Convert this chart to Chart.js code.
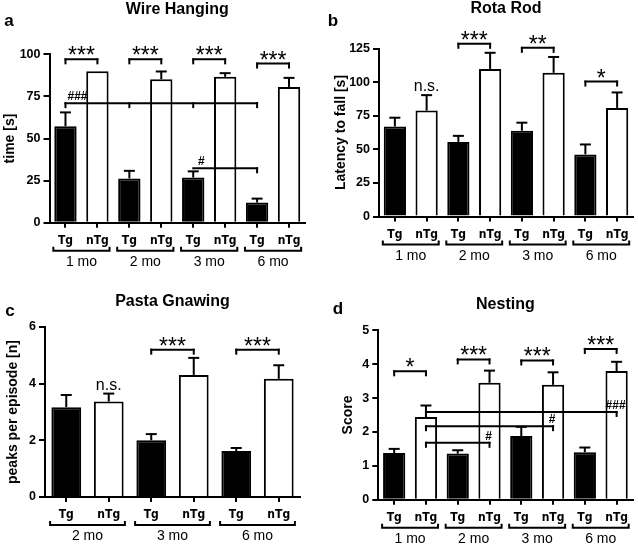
<!DOCTYPE html>
<html>
<head>
<meta charset="utf-8">
<script src="https://cdn.jsdelivr.net/npm/chart.js@4.4.0/dist/chart.umd.min.js"></script>
<style>
  body { margin: 0; background: #fff; }
  #wrap { position: relative; width: 638px; height: 544px; overflow: hidden; }
  canvas { position: absolute; }
</style>
</head>
<body>
<div id="wrap">
  <canvas id="wire" width="320" height="272" style="left:0;top:0"></canvas>
  <canvas id="rota" width="318" height="272" style="left:320px;top:0"></canvas>
  <canvas id="pasta" width="320" height="272" style="left:0;top:272px"></canvas>
  <canvas id="nest" width="318" height="272" style="left:320px;top:272px"></canvas>
</div>
<script>
// a: Wire Hanging
var wireMonths = ['1 mo', '2 mo', '3 mo', '6 mo'];
var wireTg = [57.3, 26.3, 26.8, 12.0];
var wireTgSem = [8.2, 4.5, 3.7, 2.3];
var wireNTg = [90.0, 85.2, 86.6, 80.6];
var wireNTgSem = [0, 4.6, 2.2, 5.4];

// b: Rota Rod
var rotaMonths = ['1 mo', '2 mo', '3 mo', '6 mo'];
var rotaTg = [67.0, 55.5, 63.8, 46.2];
var rotaTgSem = [6.5, 4.5, 6.0, 7.4];
var rotaNTg = [78.8, 109.8, 106.9, 80.8];
var rotaNTgSem = [11.5, 12.0, 11.8, 11.5];

// c: Pasta Gnawing
var pastaMonths = ['2 mo', '3 mo', '6 mo'];
var pastaTg = [3.17, 2.00, 1.62];
var pastaTgSem = [0.43, 0.22, 0.11];
var pastaNTg = [3.37, 4.31, 4.17];
var pastaNTgSem = [0.28, 0.60, 0.48];

// d: Nesting
var nestMonths = ['1 mo', '2 mo', '3 mo', '6 mo'];
var nestTg = [1.38, 1.36, 1.88, 1.40];
var nestTgSem = [0.12, 0.10, 0.27, 0.14];
var nestNTg = [2.44, 3.45, 3.39, 3.80];
var nestNTgSem = [0.34, 0.36, 0.37, 0.27];

// significance marks: bar slots (Tg = 2*group, nTg = 2*group+1), level in data units
var wireSig = [
  { from: 0, to: 1, level: 97, text: '***' },
  { from: 2, to: 3, level: 97, text: '***' },
  { from: 4, to: 5, level: 97, text: '***' },
  { from: 6, to: 7, level: 94.5, text: '***' },
  { from: 0, to: 6, level: 71, text: '###', ticks: [0, 2, 4, 6], at: 'left' },
  { from: 4, to: 6, level: 32.3, text: '#', ticks: [6], at: 'left' }
];
var rotaSig = [
  { slot: 1, level: 97, text: 'n.s.' },
  { from: 2, to: 3, level: 128.5, text: '***' },
  { from: 4, to: 5, level: 125.5, text: '**' },
  { from: 6, to: 7, level: 100.4, text: '*' }
];
var pastaSig = [
  { slot: 1, level: 3.94, text: 'n.s.' },
  { from: 2, to: 3, level: 5.2, text: '***' },
  { from: 4, to: 5, level: 5.2, text: '***' }
];
var nestSig = [
  { from: 0, to: 1, level: 3.79, text: '*' },
  { from: 2, to: 3, level: 4.14, text: '***' },
  { from: 4, to: 5, level: 4.11, text: '***' },
  { from: 6, to: 7, level: 4.45, text: '***' },
  { from: 1, to: 7, level: 2.59, text: '###', ticks: [1, 7], at: 'right' },
  { from: 1, to: 5, level: 2.17, text: '#', ticks: [1, 5], at: 'right' },
  { from: 1, to: 3, level: 1.68, text: '#', ticks: [1, 3], at: 'right' }
];

var FONT = '"Liberation Sans", Arial, sans-serif';
var NARROW = '"Liberation Sans Narrow", "DejaVu Sans Condensed", "Liberation Sans", sans-serif';

function line(ctx, x1, y1, x2, y2) {
  ctx.beginPath();
  ctx.moveTo(x1, y1);
  ctx.lineTo(x2, y2);
  ctx.stroke();
}

function makePanel(id, p) {
  var canvas = document.getElementById(id);
  var W = canvas.width, H = canvas.height;
  var labels = [], tgData = [], ntgData = [], sems = [];
  p.months.forEach(function (m, i) {
    labels.push('Tg', 'nTg');
    tgData.push(p.tg[i], null);
    ntgData.push(null, p.ntg[i]);
    sems.push(p.tgSem[i], p.ntgSem[i]);
  });

  var extras = {
    id: 'extras',
    afterDraw: function (chart) {
      var ctx = chart.ctx, xs = chart.scales.x, ys = chart.scales.y, area = chart.chartArea;
      ctx.save();
      ctx.strokeStyle = '#000';
      ctx.fillStyle = '#000';
      ctx.lineWidth = 2;
      ctx.lineCap = 'butt';

      // error bars (SEM, upward only)
      for (var i = 0; i < labels.length; i++) {
        var v = i % 2 === 0 ? tgData[i] : ntgData[i];
        if (!sems[i]) continue;
        var xc = xs.getPixelForValue(i);
        var y0 = ys.getPixelForValue(v), y1 = ys.getPixelForValue(v + sems[i]);
        line(ctx, xc, y0, xc, y1);
        line(ctx, xc - 5.5, y1, xc + 5.5, y1);
      }

      // significance brackets
      ctx.textAlign = 'center';
      ctx.textBaseline = 'alphabetic';
      p.sig.forEach(function (s) {
        var yy = ys.getPixelForValue(s.level);
        if (s.slot !== undefined) {
          ctx.font = '16px ' + FONT;
          ctx.fillText(s.text, xs.getPixelForValue(s.slot), yy + 4.5);
          return;
        }
        var x1 = xs.getPixelForValue(s.from), x2 = xs.getPixelForValue(s.to);
        line(ctx, x1 - 1, yy, x2 + 1, yy);
        (s.ticks || [s.from, s.to]).forEach(function (t) {
          var xt = xs.getPixelForValue(t);
          line(ctx, xt, yy - 1, xt, yy + 5);
        });
        if (s.text.charAt(0) === '*') {
          ctx.font = '23px ' + FONT;
          ctx.fillText(s.text, (x1 + x2) / 2, yy + 4);
        } else {
          ctx.font = 'bold 12px ' + FONT;
          var tx = s.at === 'left' ? x1 + 2 + ctx.measureText(s.text).width / 2 : x2 - 1;
          if (s.text === '#' && s.at === 'left') tx = x1 + 8;
          ctx.fillText(s.text, tx, yy - 3);
        }
      });

      // group brackets and month labels under the x axis
      var step = xs.getPixelForValue(1) - xs.getPixelForValue(0);
      ctx.font = '14px ' + FONT;
      ctx.textBaseline = 'middle';
      p.months.forEach(function (m, g) {
        var xa = xs.getPixelForValue(2 * g) - step * 0.38;
        var xb = xs.getPixelForValue(2 * g + 1) + step * 0.38;
        var yb = area.bottom + 28;
        ctx.beginPath();
        ctx.moveTo(xa, yb - 4);
        ctx.lineTo(xa, yb);
        ctx.lineTo(xb, yb);
        ctx.lineTo(xb, yb - 4);
        ctx.stroke();
        ctx.fillText(m, (xa + xb) / 2, area.bottom + 39.5);
      });

      // title and panel letter
      ctx.font = 'bold 16px ' + FONT;
      ctx.fillText(p.title, (area.left + area.right) / 2, p.titleY);
      ctx.font = 'bold 17px ' + FONT;
      ctx.fillText(p.letter, p.letterX, p.letterY);
      ctx.restore();
    }
  };

  return new Chart(canvas, {
    type: 'bar',
    data: {
      labels: labels,
      datasets: [
        { label: 'Tg', data: tgData, backgroundColor: '#000', borderColor: '#000', borderWidth: 2 },
        { label: 'nTg', data: ntgData, backgroundColor: '#fff', borderColor: '#000', borderWidth: 2 }
      ]
    },
    options: {
      responsive: false,
      animation: false,
      devicePixelRatio: 1,
      layout: { padding: { left: 0, top: p.box.top, right: W - p.box.right, bottom: 0 } },
      datasets: { bar: { grouped: false, categoryPercentage: 1, barPercentage: 0.7 } },
      plugins: { legend: { display: false }, tooltip: { enabled: false }, title: { display: false } },
      scales: {
        x: {
          offset: true,
          grid: { display: true, drawOnChartArea: false, offset: false, color: '#000', lineWidth: 2, tickLength: 5 },
          border: { color: '#000', width: 2 },
          ticks: { color: '#000', font: { family: NARROW, size: 12, weight: 'bold' }, padding: 6, maxRotation: 0, autoSkip: false },
          afterFit: function (s) { s.height = H - p.box.bottom; }
        },
        y: {
          min: 0,
          max: p.yMax,
          ticks: { stepSize: p.yStep, color: '#000', font: { family: FONT, size: 12.5, weight: 'bold' }, padding: 3 },
          grid: { display: true, drawOnChartArea: false, color: '#000', lineWidth: 2, tickLength: 6 },
          border: { color: '#000', width: 2 },
          title: { display: true, text: p.yTitle, color: '#000', font: { family: FONT, size: 14, weight: 'bold' }, padding: { top: p.yTitlePad, bottom: 0 } },
          afterFit: function (s) { s.width = p.box.left; }
        }
      }
    },
    plugins: [extras]
  });
}

makePanel('wire', {
  months: wireMonths, tg: wireTg, tgSem: wireTgSem, ntg: wireNTg, ntgSem: wireNTgSem, sig: wireSig,
  yMax: 100, yStep: 25, yTitle: 'time [s]', yTitlePad: 2,
  title: 'Wire Hanging', titleY: 10, letter: 'a', letterX: 9, letterY: 21,
  box: { left: 49.5, right: 305, top: 54.3, bottom: 222.7 }
});
makePanel('rota', {
  months: rotaMonths, tg: rotaTg, tgSem: rotaTgSem, ntg: rotaNTg, ntgSem: rotaNTgSem, sig: rotaSig,
  yMax: 125, yStep: 25, yTitle: 'Latency to fall [s]', yTitlePad: 13,
  title: 'Rota Rod', titleY: 9, letter: 'b', letterX: 13, letterY: 21,
  box: { left: 59, right: 313, top: 48.5, bottom: 216.5 }
});
makePanel('pasta', {
  months: pastaMonths, tg: pastaTg, tgSem: pastaTgSem, ntg: pastaNTg, ntgSem: pastaNTgSem, sig: pastaSig,
  yMax: 6, yStep: 2, yTitle: 'peaks per episode [n]', yTitlePad: 5,
  title: 'Pasta Gnawing', titleY: 30, letter: 'c', letterX: 10, letterY: 39,
  box: { left: 45, right: 300, top: 55, bottom: 225 }
});
makePanel('nest', {
  months: nestMonths, tg: nestTg, tgSem: nestTgSem, ntg: nestNTg, ntgSem: nestNTgSem, sig: nestSig,
  yMax: 5, yStep: 1, yTitle: 'Score', yTitlePad: 20,
  title: 'Nesting', titleY: 33, letter: 'd', letterX: 18, letterY: 37,
  box: { left: 58.3, right: 312.5, top: 58.3, bottom: 227.7 }
});
</script>
</body>
</html>
